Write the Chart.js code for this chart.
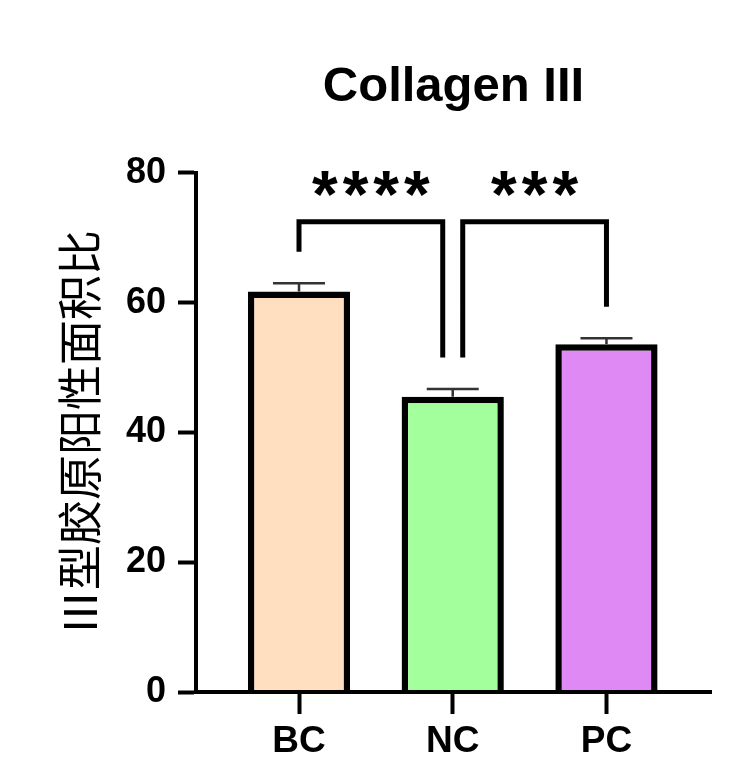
<!DOCTYPE html>
<html>
<head>
<meta charset="utf-8">
<script src="https://cdn.jsdelivr.net/npm/chart.js@4.4.1/dist/chart.umd.min.js"></script>
<style>
  html, body { margin: 0; padding: 0; background: #ffffff; }
  #wrap { width: 750px; height: 783px; }
</style>
</head>
<body>
<div id="wrap"><canvas id="c" width="750" height="783"></canvas></div>
<script>
// ---- data ----
const categories = ['BC', 'NC', 'PC'];
const means = [61.7, 45.5, 53.6];
const sems = [1.3, 1.2, 0.9];
const yTicks = [0, 20, 40, 60, 80];
const barColors = ['#FFDFC0', '#A3FE9C', '#DE89F4'];
const comparisons = [
  { from: 0, to: 1, label: '****' },
  { from: 1, to: 2, label: '***' }
];
const chartTitle = 'Collagen III';
const yTitle = 'Ⅲ型胶原阳性面积比';

const annotPlugin = {
  id: 'annot',
  afterDatasetsDraw(chart, args, opts) {
    const { ctx } = chart;
    const x = chart.scales.x, y = chart.scales.y;
    ctx.save();
    // error bars
    ctx.strokeStyle = opts.errColor;
    ctx.lineWidth = opts.errWidth;
    ctx.lineCap = 'butt';
    means.forEach((m, i) => {
      const px = x.getPixelForValue(i);
      const yt = y.getPixelForValue(m + sems[i]);
      const yb = y.getPixelForValue(m);
      ctx.beginPath();
      ctx.moveTo(px, yb); ctx.lineTo(px, yt);
      ctx.moveTo(px - opts.capHalf, yt); ctx.lineTo(px + opts.capHalf, yt);
      ctx.stroke();
    });
    // significance brackets
    const legEnd = means.map((m, i) => y.getPixelForValue(m + sems[i]) - opts.legGap);
    const lineY = Math.min(...legEnd) - opts.rise;
    ctx.strokeStyle = '#000';
    ctx.lineWidth = opts.bracketWidth;
    ctx.lineJoin = 'miter';
    comparisons.forEach(c => {
      const sharedLeft = comparisons.some(o => o !== c && o.to === c.from);
      const sharedRight = comparisons.some(o => o !== c && o.from === c.to);
      const x1 = x.getPixelForValue(c.from) + (sharedLeft ? opts.shareOffset : 0);
      const x2 = x.getPixelForValue(c.to) - (sharedRight ? opts.shareOffset : 0);
      ctx.beginPath();
      ctx.moveTo(x1, legEnd[c.from]);
      ctx.lineTo(x1, lineY);
      ctx.lineTo(x2, lineY);
      ctx.lineTo(x2, legEnd[c.to]);
      ctx.stroke();
      ctx.fillStyle = '#000';
      ctx.font = opts.starFont;
      if ('letterSpacing' in ctx) ctx.letterSpacing = opts.starSpacing + 'px';
      ctx.textAlign = 'center';
      ctx.textBaseline = 'alphabetic';
      ctx.fillText(c.label, (x1 + x2) / 2 + opts.starSpacing / 2, lineY + opts.starDy);
      if ('letterSpacing' in ctx) ctx.letterSpacing = '0px';
    });
    ctx.restore();
  }
};

const sansBold = (size) => ({ family: '"Liberation Sans", Arial, sans-serif', size: size, weight: 'bold' });

new Chart(document.getElementById('c'), {
  type: 'bar',
  data: {
    datasets: [{
      data: means.map((m, i) => ({ x: i, y: m })),
      backgroundColor: barColors,
      borderColor: '#000',
      borderWidth: 6.5,
      borderSkipped: 'start',
      categoryPercentage: 1,
      barPercentage: 0.665
    }]
  },
  options: {
    responsive: false,
    animation: false,
    devicePixelRatio: 1,
    layout: { padding: { left: 0, right: 39, top: 0, bottom: 0 } },
    plugins: {
      legend: { display: false },
      tooltip: { enabled: false },
      title: {
        display: true,
        text: chartTitle,
        fullSize: false,
        color: '#000',
        font: sansBold(49),
        padding: { top: 58, bottom: 56 }
      },
      annot: {
        errColor: '#333',
        errWidth: 2.5,
        capHalf: 26,
        legGap: 31.5,
        rise: 30,
        shareOffset: 10,
        bracketWidth: 5,
        starFont: 'bold 66px "Liberation Sans", Arial, sans-serif',
        starSpacing: 5,
        starDy: -5
      }
    },
    scales: {
      x: {
        type: 'linear',
        offset: false,
        min: -0.67,
        max: 2.68,
        afterBuildTicks: (s) => { s.ticks = categories.map((c, i) => ({ value: i })); },
        afterFit: (s) => { s.height = 91; },
        ticks: {
          callback: (v) => categories[v] ?? '',
          color: '#000',
          font: sansBold(37),
          padding: 6,
          maxRotation: 0,
          autoSkip: false
        },
        grid: { offset: false, drawOnChartArea: false, drawTicks: true, tickLength: 22, tickWidth: 4, tickColor: '#000' },
        border: { display: true, color: '#000', width: 4, z: 1 }
      },
      y: {
        min: 0,
        max: 80,
        afterBuildTicks: (s) => { s.ticks = yTicks.map(v => ({ value: v })); },
        afterFit: (s) => { s.width = 196; },
        ticks: { color: '#000', font: sansBold(36), padding: 12 },
        grid: { drawOnChartArea: false, drawTicks: true, tickLength: 18, tickWidth: 4, tickColor: '#000' },
        border: { display: true, color: '#000', width: 4 },
        title: {
          display: true,
          text: yTitle,
          color: '#000',
          font: { family: '"Noto Sans CJK SC", sans-serif', size: 45, weight: 'normal' },
          padding: { top: 53, bottom: 0 }
        }
      }
    }
  },
  plugins: [annotPlugin]
});
</script>
</body>
</html>
